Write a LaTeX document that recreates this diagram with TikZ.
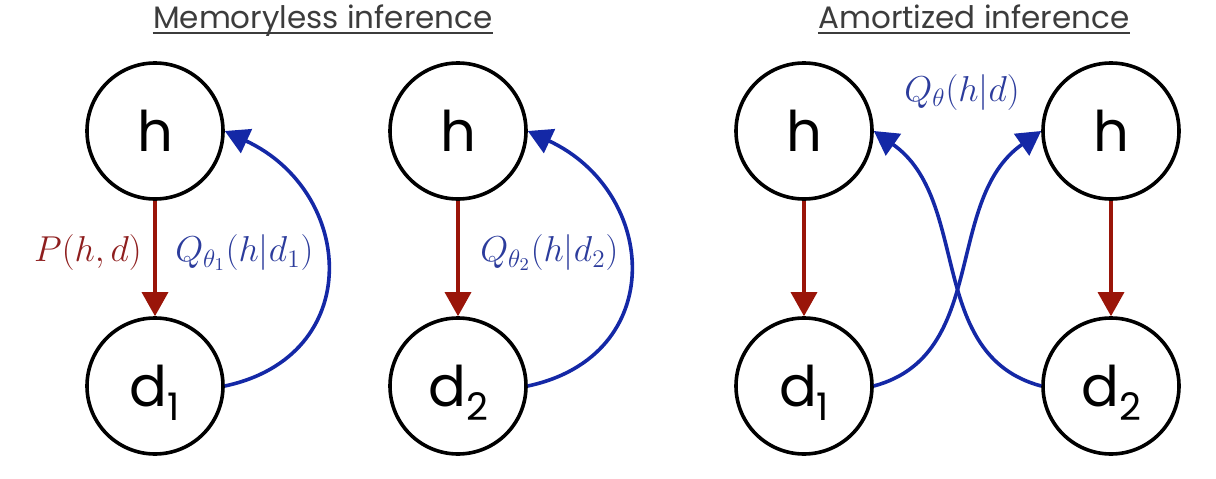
\RequirePackage{fix-cm}
\documentclass[tikz,border=0pt]{standalone}
\usepackage{fontspec}
\usepackage{amsmath}
\usetikzlibrary{arrows.meta, positioning, calc}
\newfontfamily\gothic{Poppins}
\definecolor{genred}{HTML}{9A1509}
\definecolor{infblue}{HTML}{1428A6}
\definecolor{labred}{HTML}{8E1E1E}
\definecolor{labblue}{HTML}{2C3C9C}
\definecolor{titlegray}{HTML}{3C3C3C}
\newcommand{\dsub}[1]{d\raisebox{-0.25em}{\fontsize{19}{20}\selectfont #1}}

\begin{document}
\begin{tikzpicture}[
    x=0.5pt, y=0.5pt,
    >={Triangle[length=12pt, width=13pt]},
    var/.style={circle, draw=black, line width=1.8pt, minimum size=68pt, inner sep=0pt, text depth=0pt, font=\gothic\fontsize{28}{30}\selectfont},
    gen/.style={->, draw=genred, line width=1.6pt},
    inf/.style={->, draw=infblue, line width=1.8pt},
    genlabel/.style={text=labred, font=\fontsize{18}{20}\selectfont},
    inflabel/.style={text=labblue, font=\fontsize{18}{20}\selectfont},
    heading/.style={anchor=base, inner sep=0pt, text=titlegray, font=\gothic\fontsize{15.5}{17}\selectfont},
    headline/.style={draw=titlegray, line width=1.3pt}
]
\useasboundingbox (0,0) rectangle (1216,478);

% Titles
\node[heading] (memtitle) at (323, 450) {Memoryless inference};
\node[heading] (amtitle) at (974, 450) {Amortized inference};
\draw[headline] ([yshift=-2.5pt]memtitle.base west) -- ([yshift=-2.5pt]memtitle.base east);
\draw[headline] ([yshift=-2.5pt]amtitle.base west) -- ([yshift=-2.5pt]amtitle.base east);

% Memoryless, one Q per data point
\node[var] (mh1) at (155, 347) {h};
\node[var] (md1) at (155, 92) {\dsub{1}};
\node[var] (mh2) at (458, 347) {h};
\node[var] (md2) at (458, 92) {\dsub{2}};

% Amortized, one shared Q
\node[var] (ah1) at (804, 347) {h};
\node[var] (ad1) at (804, 92) {\dsub{1}};
\node[var] (ah2) at (1111, 347) {h};
\node[var] (ad2) at (1111, 92) {\dsub{2}};
\node[inflabel] (amlabel) at (962, 386) {$Q_\theta(h|d)$};

% Connections
\draw[gen] (mh1) -- node[genlabel, left, pos=0.45, xshift=-2.5pt] {$P(h,d)$} node[inflabel, right, pos=0.45, xshift=6pt] {$Q_{\theta_1}(h|d_1)$} (md1);
\draw[gen] (mh2) -- node[inflabel, right, pos=0.45, xshift=7pt] {$Q_{\theta_2}(h|d_2)$} (md2);
\draw[inf] (md1.east) to[out=12, in=-25, looseness=1.45] (mh1.east);
\draw[inf] (md2.east) to[out=12, in=-25, looseness=1.45] (mh2.east);

\draw[gen] (ah1) -- (ad1);
\draw[gen] (ah2) -- (ad2);
\draw[inf] (ad1.east) to[out=15, in=215] (ah2.west);
\draw[inf] (ad2.west) to[out=165, in=-35] (ah1.east);
\end{tikzpicture}
\end{document}
